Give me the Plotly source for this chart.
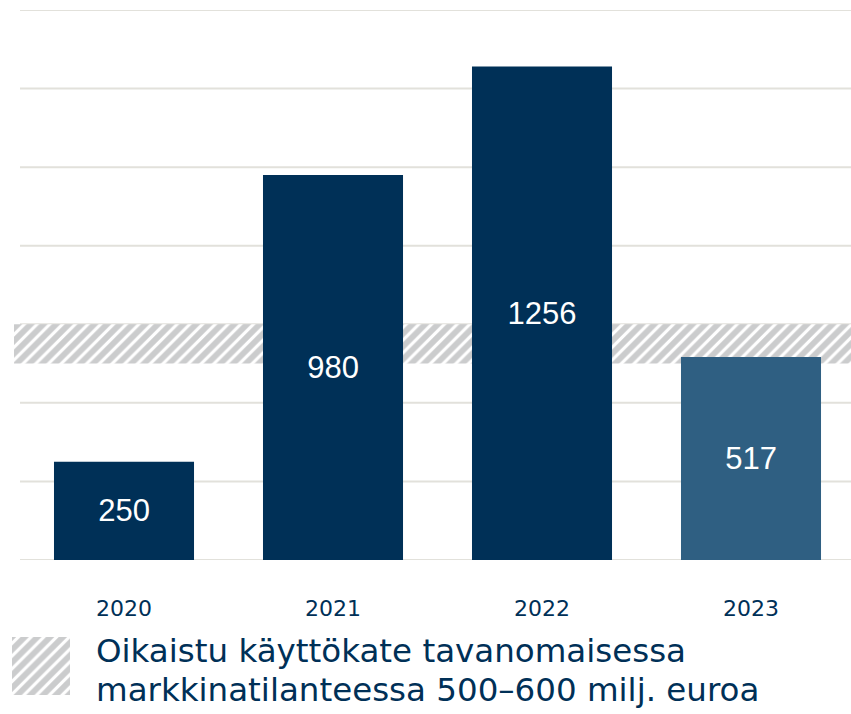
import plotly.graph_objects as go

years = ["2020", "2021", "2022", "2023"]
values = [250, 980, 1256, 517]
bar_colors = ["#003057", "#003057", "#003057", "#2F5F82"]
band_low, band_high = 500, 600
grid_values = [0, 200, 400, 600, 800, 1000, 1200, 1400]
legend_line1 = "Oikaistu käyttökate tavanomaisessa"
legend_line2 = "markkinatilanteessa 500–600 milj. euroa"

W, H = 851, 714
OFF = 0  # body margin removed by post_script
FONT = "Liberation Sans, Arial, sans-serif"
FONT2 = "DejaVu Sans, sans-serif"
NAVY = "#003057"
HATCH = "#98999B"
GRID = "#E2E1DB"


def px_x(x):
    return (x - OFF) / W


def px_y(y):
    return (H - (y - OFF)) / H


xpos = list(range(len(years)))
SP = 209.0
c0 = 124 - OFF
left_px, right_px = 14 - OFF, W
x_range = [(left_px - c0) / SP, (right_px - c0) / SP]

fig = go.Figure()

# hatched band (behind bars), spanning the whole x range
fig.add_trace(go.Bar(
    x=[(x_range[0] + x_range[1]) / 2], y=[band_high - band_low], base=[band_low],
    width=[x_range[1] - x_range[0]],
    marker=dict(color="white", line=dict(width=0),
                pattern=dict(shape="/", fgcolor=HATCH, bgcolor="white", size=9, solidity=0.65)),
    hoverinfo="skip", showlegend=False,
))

fig.add_trace(go.Bar(
    x=xpos, y=values, width=0.67,
    marker=dict(color=bar_colors, line=dict(width=0)),
    text=[str(v) for v in values], textposition="inside",
    insidetextanchor="middle", textangle=0,
    textfont=dict(color="white", size=31, family=FONT),
    showlegend=False, hoverinfo="skip",
))

# legend square on separate axes
fig.add_trace(go.Scatter(
    x=[0, 1, 1, 0, 0], y=[0, 0, 1, 1, 0],
    fill="toself", mode="none", fillcolor="white",
    fillpattern=dict(shape="/", fgcolor=HATCH, bgcolor="white", size=9, solidity=0.65),
    xaxis="x2", yaxis="y2", hoverinfo="skip", showlegend=False,
))

shapes = [dict(type="line", xref="paper", yref="y", x0=px_x(20), x1=1, y0=g, y1=g,
               line=dict(color=GRID, width=2), layer="below") for g in grid_values]

fig.update_layout(
    width=W, height=H,
    margin=dict(l=0, r=0, t=0, b=0),
    paper_bgcolor="white", plot_bgcolor="white",
    barmode="overlay",
    xaxis=dict(
        domain=[px_x(14), 1], range=x_range,
        tickmode="array", tickvals=xpos, ticktext=years,
        showgrid=False, zeroline=False, showline=False,
        ticks="", ticklabelstandoff=33,
        tickfont=dict(size=22, color=NAVY, family=FONT2),
        fixedrange=True,
    ),
    yaxis=dict(
        domain=[px_y(560), px_y(10)], range=[0, 1400],
        showticklabels=False, showgrid=False,
        zeroline=False, showline=False, ticks="",
    ),
    xaxis2=dict(domain=[px_x(12), px_x(70)], range=[0, 1], visible=False, anchor="y2"),
    yaxis2=dict(domain=[px_y(695), px_y(637)], range=[0, 1], visible=False, anchor="x2"),
    shapes=shapes,
    annotations=[
        dict(x=px_x(94), y=px_y(651), xref="paper", yref="paper",
             xanchor="left", yanchor="middle", align="left",
             text=legend_line1, showarrow=False,
             font=dict(size=32.5, color=NAVY, family=FONT2)),
        dict(x=px_x(94), y=px_y(690), xref="paper", yref="paper",
             xanchor="left", yanchor="middle", align="left",
             text=legend_line2, showarrow=False,
             font=dict(size=32.5, color=NAVY, family=FONT2)),
    ],
)

fig.write_html(
    "out.html",
    config={"displayModeBar": False},
    post_script="document.body.style.margin='0';document.documentElement.style.overflow='hidden';",
)
